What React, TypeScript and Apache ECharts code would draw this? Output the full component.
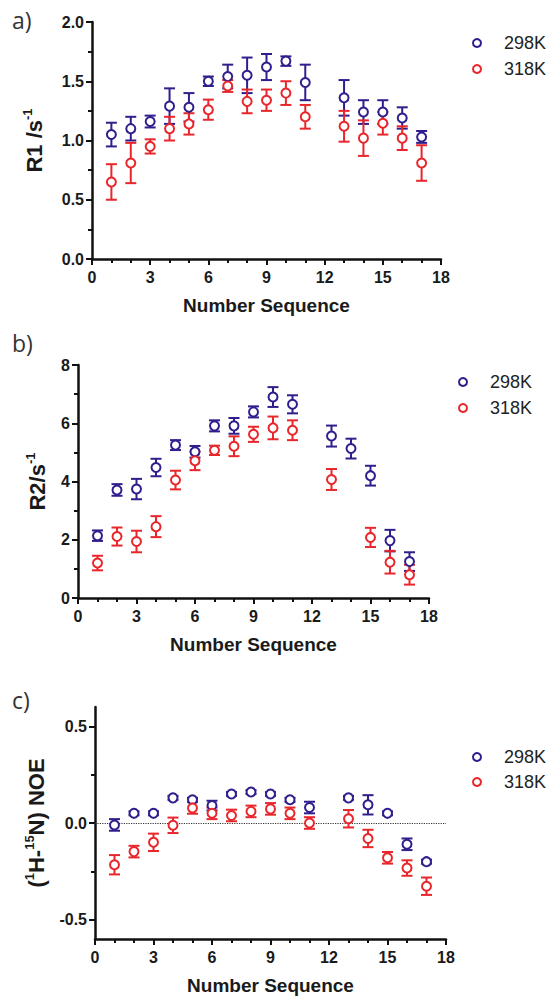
import React, { useEffect, useRef } from "react";
import * as echarts from "echarts";

// ---------- data ----------
const seq298 = [1, 2, 3, 4, 5, 6, 7, 8, 9, 10, 11, 13, 14, 15, 16, 17];
const seq318 = [1, 2, 3, 4, 5, 6, 7, 8, 9, 10, 11, 13, 14, 15, 16, 17];
const seqR2_318 = [1, 2, 3, 4, 5, 6, 7, 8, 9, 10, 11, 13, 15, 16, 17];

const r1_298 = [1.05, 1.1, 1.16, 1.29, 1.28, 1.5, 1.54, 1.55, 1.62, 1.67, 1.49, 1.36, 1.24, 1.24, 1.19, 1.03];
const r1_298_err = [0.1, 0.1, 0.05, 0.15, 0.12, 0.04, 0.1, 0.15, 0.11, 0.04, 0.15, 0.15, 0.1, 0.1, 0.09, 0.05];
const r1_318 = [0.65, 0.81, 0.95, 1.1, 1.14, 1.26, 1.46, 1.33, 1.34, 1.4, 1.2, 1.12, 1.02, 1.145, 1.02, 0.81];
const r1_318_err = [0.15, 0.17, 0.06, 0.1, 0.09, 0.085, 0.05, 0.1, 0.09, 0.1, 0.1, 0.13, 0.15, 0.095, 0.1, 0.15];

const r2_298 = [2.14, 3.71, 3.74, 4.48, 5.25, 5.02, 5.91, 5.91, 6.39, 6.9, 6.65, 5.56, 5.13, 4.2, 1.97, 1.25];
const r2_298_err = [0.18, 0.2, 0.35, 0.3, 0.17, 0.2, 0.19, 0.27, 0.19, 0.34, 0.31, 0.36, 0.34, 0.34, 0.37, 0.32];
const r2_318 = [1.2, 2.11, 1.94, 2.45, 4.05, 4.71, 5.07, 5.21, 5.62, 5.84, 5.76, 4.07, 2.08, 1.23, 0.8];
const r2_318_err = [0.25, 0.31, 0.37, 0.36, 0.32, 0.32, 0.16, 0.34, 0.26, 0.39, 0.34, 0.36, 0.33, 0.39, 0.34];

const noe_298 = [-0.01, 0.05, 0.05, 0.13, 0.12, 0.09, 0.15, 0.16, 0.15, 0.12, 0.08, 0.13, 0.094, 0.05, -0.11, -0.2];
const noe_298_err = [0.03, 0.01, 0.01, 0.01, 0.01, 0.025, 0.01, 0.01, 0.01, 0.01, 0.03, 0.01, 0.05, 0.01, 0.03, 0.01];
const noe_318 = [-0.216, -0.148, -0.1, -0.012, 0.078, 0.05, 0.039, 0.06, 0.073, 0.05, 0.0, 0.022, -0.08, -0.18, -0.233, -0.327];
const noe_318_err = [0.05, 0.03, 0.045, 0.04, 0.03, 0.03, 0.03, 0.03, 0.03, 0.03, 0.03, 0.045, 0.045, 0.03, 0.04, 0.045];

const noeTicks = [-0.5, 0, 0.5];
const noeMinorTicks = [-0.25, 0.25];
const legendNames = ["298K", "318K"];

// ---------- styles ----------
const BLUE = "#2e1f8c";
const RED = "#e8262b";
const FONT = "Liberation Sans, Arial, sans-serif";

const zip = (xs: number[], ys: number[], es: number[]) => xs.map((x, i) => [x, ys[i], es[i]]);

function errSeries(name: string, data: number[][], color: string, idx: number) {
  return {
    name,
    type: "custom",
    xAxisIndex: idx,
    yAxisIndex: idx,
    data,
    encode: { x: 0, y: 1 },
    clip: false,
    z: 2,
    renderItem: (params: any, api: any) => {
      const x = api.value(0);
      const y = api.value(1);
      const e = api.value(2);
      const top = api.coord([x, y + e]);
      const bot = api.coord([x, y - e]);
      const hw = 5.5;
      const st = { stroke: color, lineWidth: 2 };
      return {
        type: "group",
        children: [
          { type: "line", shape: { x1: top[0], y1: top[1], x2: bot[0], y2: bot[1] }, style: st },
          { type: "line", shape: { x1: top[0] - hw, y1: top[1], x2: top[0] + hw, y2: top[1] }, style: st },
          { type: "line", shape: { x1: bot[0] - hw, y1: bot[1], x2: bot[0] + hw, y2: bot[1] }, style: st },
        ],
      };
    },
  };
}

function ptSeries(name: string, data: number[][], color: string, idx: number, extra: any = {}) {
  return {
    name,
    type: "scatter",
    xAxisIndex: idx,
    yAxisIndex: idx,
    data: data.map((d) => [d[0], d[1]]),
    symbol: "circle",
    symbolSize: 9,
    itemStyle: { color: "#ffffff", borderColor: color, borderWidth: 2, opacity: 1 },
    z: 3,
    ...extra,
  };
}

const axisLine = { show: true, onZero: false, lineStyle: { color: "#111", width: 2.5 } };
const tickLabel = { color: "#1a1a1a", fontFamily: FONT, fontWeight: "bold", fontSize: 16 };
const nameStyle = { color: "#1a1a1a", fontFamily: FONT, fontWeight: "bold", fontSize: 19 };
const richName = {
  b: { fontFamily: FONT, fontWeight: "bold", fontSize: 22, color: "#1a1a1a", lineHeight: 26 },
  s: { fontFamily: FONT, fontWeight: "bold", fontSize: 13, color: "#1a1a1a", verticalAlign: "top", lineHeight: 26 },
};

function xAxis(grid: number) {
  return {
    type: "value",
    gridIndex: grid,
    min: 0,
    max: 18,
    interval: 3,
    axisLine,
    axisTick: { show: true, length: 6, lineStyle: { color: "#111", width: 2 } },
    minorTick: { show: true, splitNumber: 3, length: 4, lineStyle: { color: "#111", width: 2 } },
    splitLine: { show: false },
    minorSplitLine: { show: false },
    axisLabel: { ...tickLabel, margin: 10 },
    name: "Number Sequence",
    nameLocation: "middle",
    nameGap: 37,
    nameTextStyle: nameStyle,
  };
}

export default function App() {
  const ref = useRef<HTMLDivElement>(null);
  useEffect(() => {
    if (!ref.current) return;
    const chart = echarts.init(ref.current, null, { renderer: "svg" });
    const legend = (x: number, y1: number, y2: number) => [
      { type: "circle", shape: { cx: x, cy: y1, r: 4 }, style: { fill: "#fff", stroke: BLUE, lineWidth: 2 } },
      { type: "text", x: x + 27, y: y1, style: { text: legendNames[0], fontFamily: FONT, fontSize: 18, fill: "#222", verticalAlign: "middle" } },
      { type: "circle", shape: { cx: x, cy: y2, r: 4 }, style: { fill: "#fff", stroke: RED, lineWidth: 2 } },
      { type: "text", x: x + 27, y: y2, style: { text: legendNames[1], fontFamily: FONT, fontSize: 18, fill: "#222", verticalAlign: "middle" } },
    ];
    const letter = (t: string, x: number, y: number) => ({
      type: "text",
      x,
      y,
      style: { text: t, fontFamily: "Open Sans, sans-serif", fontSize: 23, fill: "#333", verticalAlign: "middle" },
    });
    const option: any = {
      animation: false,
      backgroundColor: "#ffffff",
      grid: [
        { left: 92, top: 22, width: 349, height: 237 },
        { left: 78, top: 365, width: 351, height: 233 },
        { left: 95, top: 707, width: 351, height: 234 },
      ],
      xAxis: [xAxis(0), xAxis(1), xAxis(2)],
      yAxis: [
        {
          type: "value",
          gridIndex: 0,
          position: "left",
          min: 0,
          max: 2,
          interval: 0.5,
          axisLine,
          axisTick: { show: true, length: 6, lineStyle: { color: "#111", width: 2 } },
          minorTick: { show: true, splitNumber: 2, length: 4, lineStyle: { color: "#111", width: 2 } },
          splitLine: { show: false },
          axisLabel: { ...tickLabel, margin: 8, formatter: (v: number) => v.toFixed(1) },
          name: "{b|R1 /s}{s|-1}",
          nameLocation: "middle",
          nameRotate: 90,
          nameGap: 45,
          nameTextStyle: { rich: richName },
        },
        {
          type: "value",
          gridIndex: 1,
          position: "left",
          min: 0,
          max: 8,
          interval: 2,
          axisLine,
          axisTick: { show: true, length: 6, lineStyle: { color: "#111", width: 2 } },
          minorTick: { show: true, splitNumber: 2, length: 4, lineStyle: { color: "#111", width: 2 } },
          splitLine: { show: false },
          axisLabel: { ...tickLabel, margin: 8 },
          name: "{b|R2/s}{s|-1}",
          nameLocation: "middle",
          nameRotate: 90,
          nameGap: 28,
          nameTextStyle: { rich: richName },
        },
        {
          type: "value",
          gridIndex: 2,
          position: "left",
          min: -0.6,
          max: 0.6,
          axisLine,
          axisTick: { show: true, length: 6, customValues: noeTicks, lineStyle: { color: "#111", width: 2 } },
          splitLine: { show: false },
          axisLabel: { ...tickLabel, margin: 8, customValues: noeTicks, formatter: (v: number) => v.toFixed(1) },
          name: "{b|(}{s|1}{b|H-}{s|15}{b|N) NOE}",
          nameLocation: "middle",
          nameRotate: 90,
          nameGap: 46,
          nameTextStyle: { rich: richName },
        },
        {
          type: "value",
          gridIndex: 2,
          position: "left",
          offset: 0,
          min: -0.6,
          max: 0.6,
          axisLine: { show: false, onZero: false },
          axisTick: { show: true, length: 4, customValues: noeMinorTicks, lineStyle: { color: "#111", width: 2 } },
          splitLine: { show: false },
          axisLabel: { show: false },
        },
      ],
      graphic: [
        letter("a)", 12, 20),
        letter("b)", 12, 343),
        letter("c)", 12, 700),
        ...legend(477, 43, 69),
        ...legend(463, 382, 408),
        ...legend(477, 757, 782),
      ],
      series: [
        errSeries("298K", zip(seq298, r1_298, r1_298_err), BLUE, 0),
        errSeries("318K", zip(seq318, r1_318, r1_318_err), RED, 0),
        ptSeries("298K", zip(seq298, r1_298, r1_298_err), BLUE, 0),
        ptSeries("318K", zip(seq318, r1_318, r1_318_err), RED, 0),
        errSeries("298K", zip(seq298, r2_298, r2_298_err), BLUE, 1),
        errSeries("318K", zip(seqR2_318, r2_318, r2_318_err), RED, 1),
        ptSeries("298K", zip(seq298, r2_298, r2_298_err), BLUE, 1),
        ptSeries("318K", zip(seqR2_318, r2_318, r2_318_err), RED, 1),
        errSeries("298K", zip(seq298, noe_298, noe_298_err), BLUE, 2),
        errSeries("318K", zip(seq318, noe_318, noe_318_err), RED, 2),
        ptSeries("298K", zip(seq298, noe_298, noe_298_err), BLUE, 2, {
          markLine: {
            silent: true,
            symbol: "none",
            label: { show: false },
            lineStyle: { type: "dotted", color: "#333", width: 1.2 },
            data: [{ yAxis: 0 }],
            z: 1,
          },
        }),
        ptSeries("318K", zip(seq318, noe_318, noe_318_err), RED, 2),
      ],
    };
    chart.setOption(option);
    return () => chart.dispose();
  }, []);
  return (
    <div
      ref={ref}
      style={{ position: "absolute", left: 0, top: 0, width: 556, height: 996, background: "#fff" }}
    />
  );
}
